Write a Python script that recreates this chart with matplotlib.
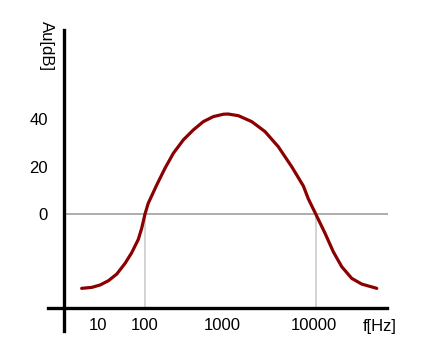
import matplotlib.pyplot as plt
from matplotlib.ticker import NullLocator

# Band-pass gain curve
freq = [18.1, 23.7, 29.7, 37.2, 46.6, 58.3, 69.8, 83.4, 91.4, 100,
        109, 137, 171, 215, 281, 368, 482, 631, 826, 938,
        1239, 1778, 2547, 3648, 5236, 7161, 8185, 10000,
        12850, 16070, 20180, 26420, 34600, 51900]
gain = [-31.3, -30.9, -29.9, -28.1, -25.3, -20.8, -16.3, -10.7, -6.0, 0,
        4.5, 12.2, 19.2, 25.6, 31.2, 35.4, 38.9, 41.0, 42.0, 42.1,
        41.4, 38.9, 34.7, 28.3, 19.9, 11.8, 6.4, 0,
        -8.1, -15.9, -22.2, -27.1, -29.5, -31.3]

cutoffs = [100, 10000]
y_ticks = [0, 20, 40]
x_tick_pos = [28.5, 100, 809, 9550]
x_tick_labels = ['10', '100', '1000', '10000']

plt.rcParams['font.family'] = ['Liberation Sans', 'DejaVu Sans']

fig = plt.figure(figsize=(4.29, 3.57), dpi=100)
ax = fig.add_axes([0, 0, 1, 1])
ax.set_xscale('log')
ax.set_xlim(10 ** 0.301, 10 ** 5.327)
ax.set_ylim(-60.2, 90.1)

# Reference lines
ax.hlines(0, 11.25, 70300, color='#a0a0a0', linewidth=1.2, zorder=1)
ax.vlines(cutoffs, -39.5, 0, color='#c8c8c8', linewidth=1.1, zorder=1)

# The curve
ax.plot(freq, gain, color='#8b0000', linewidth=2.3, zorder=3,
        solid_capstyle='round', solid_joinstyle='round')

# Axes drawn as thick black lines
for side in ['top', 'right']:
    ax.spines[side].set_visible(False)
ax.spines['left'].set_position(('data', 11.25))
ax.spines['left'].set_bounds(-49.3, 77.5)
ax.spines['bottom'].set_position(('data', -39.5))
ax.spines['bottom'].set_bounds(7.3, 68400)
for side in ['left', 'bottom']:
    ax.spines[side].set_linewidth(2.4)
    ax.spines[side].set_color('black')

ax.set_yticks(y_ticks)
ax.set_xticks(x_tick_pos)
ax.set_xticklabels(x_tick_labels)
ax.xaxis.set_minor_locator(NullLocator())
ax.tick_params(axis='y', length=0, pad=11.5, labelsize=12, labelcolor='black')
ax.tick_params(axis='x', length=0, pad=7, labelsize=12, labelcolor='black')

fig.text(379.5 / 429, 1 - 326 / 357, 'f[Hz]', ha='center', va='center',
         fontsize=12)
fig.text(46 / 429, 1 - 46 / 357, 'Au[dB]', ha='center', va='center',
         rotation=270, fontsize=12)

fig.savefig('out.png', dpi=100)
